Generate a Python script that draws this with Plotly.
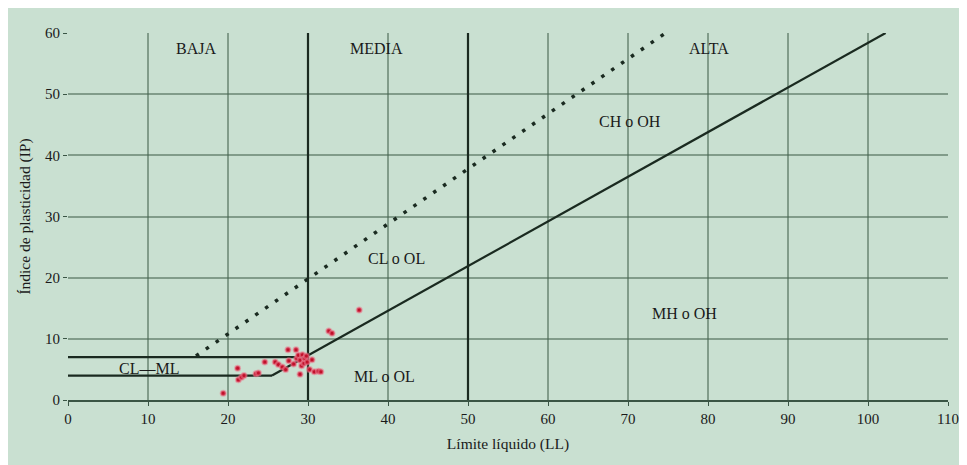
import plotly.graph_objects as go

# ---- data ----
ll_points = [19.4, 21.2, 21.3, 21.7, 22.0, 23.5, 23.8, 24.6, 25.9, 26.3, 26.8, 27.2,
             27.5, 27.6, 28.2, 28.5, 28.6, 28.8, 29.0, 29.0, 29.2, 29.3, 29.5, 29.6,
             29.8, 29.9, 30.2, 30.5, 30.8, 31.3, 31.6, 32.6, 33.0, 36.4]
ip_points = [1.1, 5.2, 3.3, 3.7, 4.0, 4.3, 4.4, 6.2, 6.2, 5.8, 5.4, 5.0,
             8.2, 6.4, 5.9, 8.2, 6.8, 7.3, 6.5, 4.2, 5.6, 7.4, 6.0, 6.8,
             7.2, 6.2, 5.0, 6.6, 4.6, 4.7, 4.6, 11.3, 10.9, 14.7]

a_line_x = [25.5, 102.2]
a_line_y = [4, 60]
u_line_x = [16, 74.7]
u_line_y = [7.2, 60]
ip7_x = [0, 29.6]
ip7_y = [7, 7]
ip4_x = [0, 25.5]
ip4_y = [4, 4]
ll_limits = [30, 50]

zone_labels = ["BAJA", "MEDIA", "ALTA", "CH o OH", "CL o OL", "MH o OH", "ML o OL", "CL\u2014ML"]
zone_x = [16, 38.6, 80.1, 70.3, 41, 77.1, 39.6, 10.1]
zone_y = [57.5, 57.5, 57.5, 45.6, 23.2, 14.2, 3.8, 5.1]

x_ticks = list(range(0, 111, 10))
y_ticks = list(range(0, 61, 10))

BG = "#c9e0d1"
GRID = "rgba(70,100,80,0.55)"
FONT = "Liberation Serif"

fig = go.Figure()

line_style = dict(color="#1a2a20", width=2.2)
fig.add_trace(go.Scatter(x=ip7_x, y=ip7_y, mode="lines", line=line_style, hoverinfo="skip"))
fig.add_trace(go.Scatter(x=ip4_x, y=ip4_y, mode="lines", line=line_style, hoverinfo="skip"))
fig.add_trace(go.Scatter(x=a_line_x, y=a_line_y, mode="lines", line=line_style, hoverinfo="skip"))
for v in ll_limits:
    fig.add_trace(go.Scatter(x=[v, v], y=[0, 60], mode="lines", line=line_style, hoverinfo="skip"))
fig.add_trace(go.Scatter(x=u_line_x, y=u_line_y, mode="lines",
                         line=dict(color="#1a2a20", width=3.5, dash="3.5px,8.5px"), hoverinfo="skip"))

fig.add_trace(go.Scatter(x=ll_points, y=ip_points, mode="markers",
                         marker=dict(color="#c0102a", size=5,
                                     line=dict(color="rgba(235,120,140,0.55)", width=2))))

for t, x, y in zip(zone_labels, zone_x, zone_y):
    fig.add_annotation(x=x, y=y, text=t, showarrow=False,
                       font=dict(family=FONT, size=16, color="#1a1a1a"))

fig.update_layout(
    width=959, height=457,
    margin=dict(l=60, r=19, t=25, b=65),
    paper_bgcolor=BG, plot_bgcolor=BG,
    showlegend=False,
    font=dict(family=FONT, size=15, color="#1a1a1a"),
)
fig.update_xaxes(range=[0, 110], tickvals=x_ticks, showgrid=True, gridcolor=GRID, gridwidth=1.8,
                 zeroline=False, showline=True, linecolor="#3a5545", linewidth=2, automargin=False,
                 ticks="outside", ticklen=4, tickcolor="#3a5545", tickfont=dict(size=15),
                 title=dict(text="Límite líquido (LL)", font=dict(size=15.5), standoff=12))
fig.update_yaxes(range=[0, 60], tickvals=y_ticks, showgrid=True, gridcolor=GRID, gridwidth=1.8,
                 zeroline=False, showline=False, automargin=False,
                 ticks="outside", ticklen=4, tickcolor="#3a5545", tickfont=dict(size=15),
                 title=dict(text="Índice de plasticidad (IP)", font=dict(size=15.5), standoff=10))

fig.write_html("out.html")
